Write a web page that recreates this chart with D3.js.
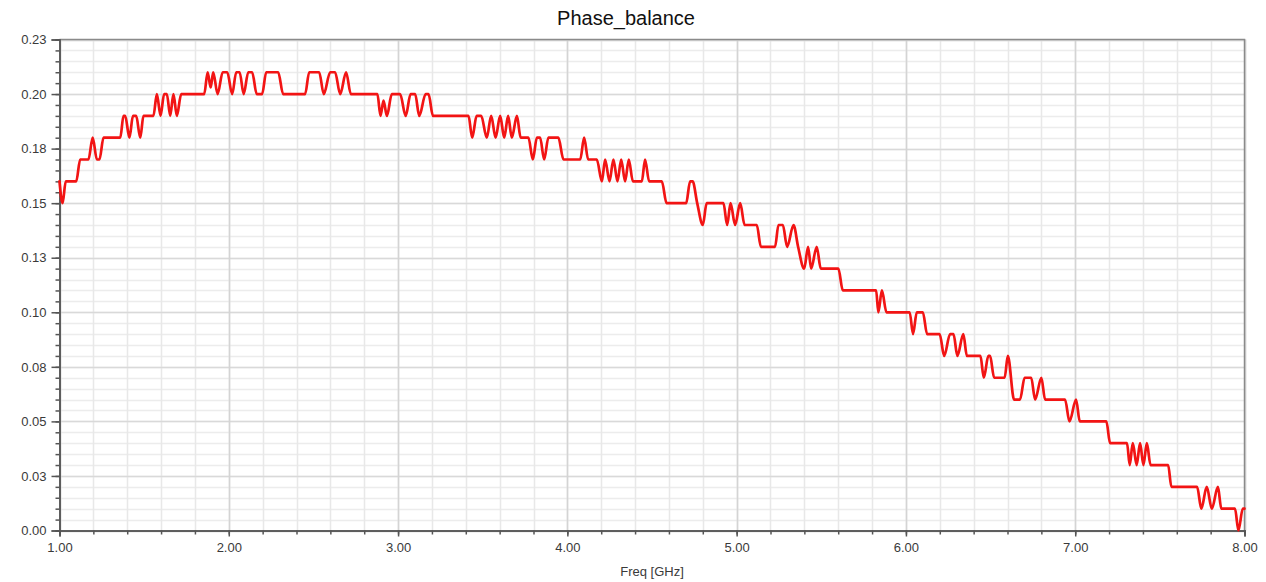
<!DOCTYPE html>
<html>
<head>
<meta charset="utf-8">
<script src="https://cdn.jsdelivr.net/npm/d3@7"></script>
<style>
  body { margin: 0; background: #fff; }
  svg { display: block; font-family: "Liberation Sans", Arial, sans-serif; }
</style>
</head>
<body>
<svg width="1266" height="582"></svg>
<script>
// vertices of the trace (freq in GHz, phase balance)
var freq = [
  1.000, 1.018, 1.037, 1.099, 1.122, 1.171, 1.196, 1.221, 1.236, 1.260,
  1.359, 1.378, 1.388, 1.413, 1.434, 1.453, 1.477, 1.496, 1.555, 1.575,
  1.597, 1.618, 1.634, 1.654, 1.673, 1.693, 1.719, 1.855, 1.875, 1.893,
  1.908, 1.934, 1.964, 1.991, 2.020, 2.044, 2.064, 2.088, 2.115, 2.138,
  2.165, 2.197, 2.221, 2.292, 2.321, 2.451, 2.475, 2.534, 2.561, 2.599,
  2.628, 2.658, 2.693, 2.721, 2.878, 2.896, 2.914, 2.934, 2.963, 3.012,
  3.045, 3.074, 3.101, 3.125, 3.163, 3.180, 3.206, 3.416, 3.438, 3.464,
  3.491, 3.524, 3.550, 3.576, 3.603, 3.627, 3.650, 3.672, 3.702, 3.724,
  3.770, 3.796, 3.820, 3.839, 3.863, 3.888, 3.947, 3.977, 4.076, 4.099,
  4.123, 4.174, 4.204, 4.223, 4.249, 4.272, 4.296, 4.318, 4.341, 4.363,
  4.387, 4.440, 4.459, 4.483, 4.558, 4.586, 4.702, 4.725, 4.740, 4.767,
  4.800, 4.823, 4.922, 4.944, 4.964, 4.991, 5.021, 5.047, 5.119, 5.143,
  5.227, 5.247, 5.273, 5.298, 5.336, 5.363, 5.399, 5.422, 5.440, 5.473,
  5.497, 5.601, 5.627, 5.824, 5.837, 5.858, 5.885, 6.022, 6.042, 6.064,
  6.100, 6.125, 6.199, 6.226, 6.261, 6.281, 6.304, 6.339, 6.360, 6.440,
  6.460, 6.487, 6.497, 6.521, 6.583, 6.602, 6.639, 6.674, 6.701, 6.740,
  6.763, 6.800, 6.822, 6.940, 6.966, 7.005, 7.027, 7.184, 7.206, 7.306,
  7.322, 7.340, 7.363, 7.383, 7.403, 7.423, 7.445, 7.549, 7.568, 7.720,
  7.745, 7.777, 7.807, 7.843, 7.863, 7.944, 7.964, 7.990, 8.000
];
var phase = [
  0.16, 0.15, 0.16, 0.16, 0.17, 0.17, 0.18, 0.17, 0.17, 0.18,
  0.18, 0.19, 0.19, 0.18, 0.19, 0.19, 0.18, 0.19, 0.19, 0.20,
  0.19, 0.20, 0.20, 0.19, 0.20, 0.19, 0.20, 0.20, 0.21, 0.203,
  0.21, 0.20, 0.21, 0.21, 0.20, 0.21, 0.21, 0.20, 0.21, 0.21,
  0.20, 0.20, 0.21, 0.21, 0.20, 0.20, 0.21, 0.21, 0.20, 0.21,
  0.21, 0.20, 0.21, 0.20, 0.20, 0.19, 0.197, 0.19, 0.20, 0.20,
  0.19, 0.20, 0.20, 0.19, 0.20, 0.20, 0.19, 0.19, 0.18, 0.19,
  0.19, 0.18, 0.19, 0.18, 0.19, 0.18, 0.19, 0.18, 0.19, 0.18,
  0.18, 0.17, 0.18, 0.18, 0.17, 0.18, 0.18, 0.17, 0.17, 0.18,
  0.17, 0.17, 0.16, 0.17, 0.16, 0.17, 0.16, 0.17, 0.16, 0.17,
  0.16, 0.16, 0.17, 0.16, 0.16, 0.15, 0.15, 0.16, 0.16, 0.15,
  0.14, 0.15, 0.15, 0.14, 0.15, 0.14, 0.15, 0.14, 0.14, 0.13,
  0.13, 0.14, 0.14, 0.13, 0.14, 0.13, 0.12, 0.13, 0.12, 0.13,
  0.12, 0.12, 0.11, 0.11, 0.10, 0.11, 0.10, 0.10, 0.09, 0.10,
  0.10, 0.09, 0.09, 0.08, 0.09, 0.09, 0.08, 0.09, 0.08, 0.08,
  0.07, 0.08, 0.08, 0.07, 0.07, 0.08, 0.06, 0.06, 0.07, 0.07,
  0.06, 0.07, 0.06, 0.06, 0.05, 0.06, 0.05, 0.05, 0.04, 0.04,
  0.03, 0.04, 0.03, 0.04, 0.03, 0.04, 0.03, 0.03, 0.02, 0.02,
  0.01, 0.02, 0.01, 0.02, 0.01, 0.01, 0.00, 0.01, 0.01
];

var xTicks = [1, 2, 3, 4, 5, 6, 7, 8];
var xTickLabels = ["1.00", "2.00", "3.00", "4.00", "5.00", "6.00", "7.00", "8.00"];
var yTicks = [0, 0.025, 0.05, 0.075, 0.1, 0.125, 0.15, 0.175, 0.2, 0.225];
var yTickLabels = ["0.00", "0.03", "0.05", "0.08", "0.10", "0.13", "0.15", "0.18", "0.20", "0.23"];

var svg = d3.select("svg");
var plotL = 59.5, plotR = 1244.5, plotT = 39.5, plotB = 530.5;

var x = d3.scaleLinear().domain([1, 8]).range([plotL, plotR]);
var y = d3.scaleLinear().domain([0, 0.225]).range([plotB, plotT]);

// minor ticks
var xMinor = d3.range(1, 8.0001, 0.2);
var yMinor = d3.range(0, 0.2250001, 0.005);

function px(v) { return Math.round(v) + 0.5; }

// grid
var grid = svg.append("g").attr("class", "grid");
grid.selectAll(".ym").data(yMinor).enter().append("line")
  .attr("x1", plotL).attr("x2", plotR)
  .attr("y1", function(d) { return px(y(d)); })
  .attr("y2", function(d) { return px(y(d)); })
  .attr("stroke", "#ececec").attr("stroke-width", 1.5);
grid.selectAll(".xm").data(xMinor).enter().append("line")
  .attr("y1", plotT).attr("y2", plotB)
  .attr("x1", function(d) { return px(x(d)); })
  .attr("x2", function(d) { return px(x(d)); })
  .attr("stroke", "#e8e8e8").attr("stroke-width", 1.5);
grid.selectAll(".yM").data(yTicks).enter().append("line")
  .attr("x1", plotL).attr("x2", plotR)
  .attr("y1", function(d) { return px(y(d)); })
  .attr("y2", function(d) { return px(y(d)); })
  .attr("stroke", "#d9d9d9").attr("stroke-width", 1.5);
grid.selectAll(".xM").data(xTicks).enter().append("line")
  .attr("y1", plotT).attr("y2", plotB)
  .attr("x1", function(d) { return px(x(d)); })
  .attr("x2", function(d) { return px(x(d)); })
  .attr("stroke", "#d4d4d4").attr("stroke-width", 1.5);

// frame top/right
svg.append("path")
  .attr("d", "M" + plotL + "," + plotT + "H" + plotR + "V" + plotB)
  .attr("fill", "none").attr("stroke", "#8a8a8a").attr("stroke-width", 1.5);

// axes
var xAxis = d3.axisBottom(x).tickValues(xTicks)
  .tickFormat(function(d, i) { return xTickLabels[i]; })
  .tickSize(6).tickPadding(6);
var yAxis = d3.axisLeft(y).tickValues(yTicks)
  .tickFormat(function(d, i) { return yTickLabels[i]; })
  .tickSize(8).tickPadding(5);

svg.append("g").attr("class", "xminor")
  .attr("transform", "translate(0," + plotB + ")")
  .call(d3.axisBottom(x).tickValues(xMinor).tickSize(4).tickFormat(""));
svg.append("g").attr("class", "yminor")
  .attr("transform", "translate(" + plotL + ",0)")
  .call(d3.axisLeft(y).tickValues(yMinor).tickSize(4).tickFormat(""));

svg.append("g").attr("class", "xaxis")
  .attr("transform", "translate(0," + plotB + ")")
  .call(xAxis);
svg.append("g").attr("class", "yaxis")
  .attr("transform", "translate(" + plotL + ",0)")
  .call(yAxis);

svg.selectAll(".xaxis path, .yaxis path, .xminor path, .yminor path")
  .attr("stroke", "#555").attr("stroke-width", 1.5);
svg.selectAll(".xaxis line, .yaxis line, .xminor line, .yminor line")
  .attr("stroke", "#555").attr("stroke-width", 1.5);
svg.selectAll(".xaxis text, .yaxis text")
  .attr("fill", "#3a3a3a").attr("font-family", null).attr("font-size", null)
  .style("font-size", "13px");

// trace
var pts = freq.map(function(f, i) { return [f, phase[i]]; });
var line = d3.line()
  .curve(d3.curveMonotoneX)
  .x(function(d) { return x(d[0]); })
  .y(function(d) { return y(d[1]); });

svg.append("path")
  .datum(pts)
  .attr("d", line)
  .attr("fill", "none")
  .attr("stroke", "#f21414")
  .attr("stroke-width", 2.7)
  .attr("stroke-linejoin", "round")
  .attr("stroke-linecap", "round");

// titles
svg.append("text")
  .attr("x", 626).attr("y", 25)
  .attr("text-anchor", "middle")
  .style("font-size", "20px").attr("fill", "#111")
  .text("Phase_balance");

svg.append("text")
  .attr("x", (plotL + plotR) / 2).attr("y", 576)
  .attr("text-anchor", "middle")
  .style("font-size", "13px").attr("fill", "#3a3a3a")
  .text("Freq [GHz]");
</script>
</body>
</html>
